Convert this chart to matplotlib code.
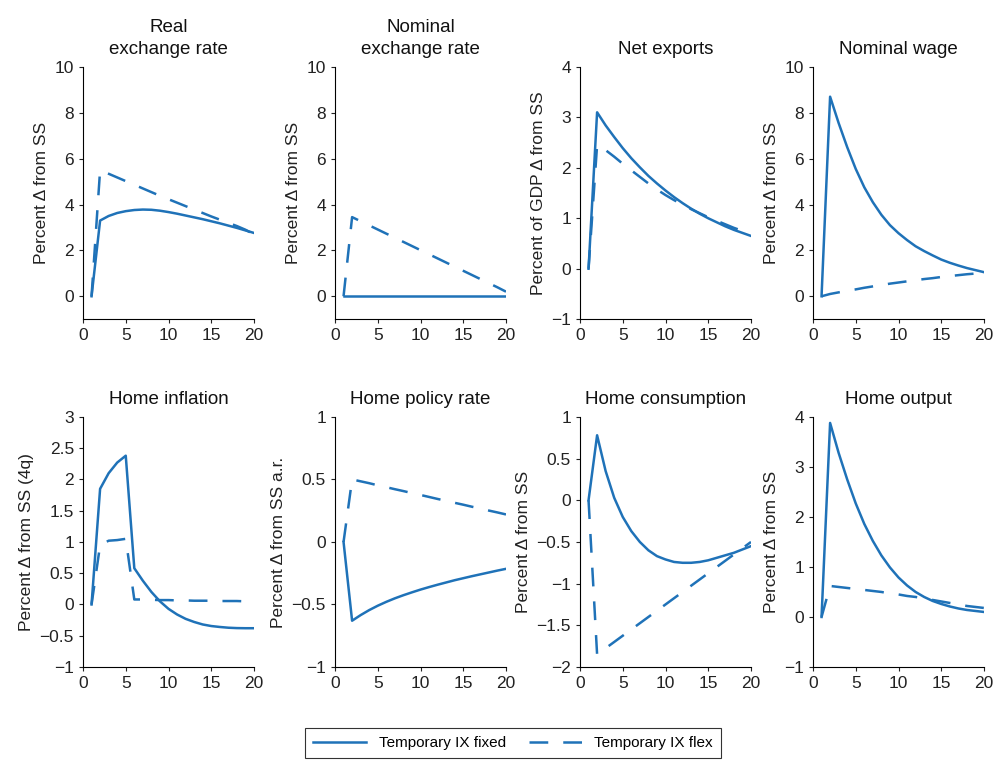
### Impulse responses: temporary IX, fixed vs flex ###
import matplotlib.pyplot as plt
from matplotlib.ticker import FuncFormatter

plt.rcParams['font.family'] = ['Liberation Sans', 'DejaVu Sans']

### Data ###
quarters = list(range(1, 21))

titles = ['Real\nexchange rate', 'Nominal\nexchange rate', 'Net exports', 'Nominal wage',
          'Home inflation', 'Home policy rate', 'Home consumption', 'Home output']
ylabels = ['Percent \u0394 from SS', 'Percent \u0394 from SS', 'Percent of GDP \u0394 from SS',
           'Percent \u0394 from SS', 'Percent \u0394 from SS (4q)', 'Percent \u0394 from SS a.r.',
           'Percent \u0394 from SS', 'Percent \u0394 from SS']

rer_fixed = [0, 3.3, 3.5, 3.63, 3.71, 3.76, 3.78, 3.77, 3.73, 3.67, 3.6, 3.52, 3.44, 3.36, 3.27,
             3.18, 3.08, 2.98, 2.87, 2.76]
rer_flex = [0, 5.5, 5.34, 5.18, 5.02, 4.86, 4.7, 4.54, 4.38, 4.23, 4.08, 3.93, 3.78, 3.63, 3.48,
            3.34, 3.2, 3.06, 2.9, 2.7]

ner_fixed = [0] * 20
ner_flex = [0, 3.45, 3.27, 3.09, 2.91, 2.73, 2.55, 2.37, 2.19, 2.01, 1.83, 1.65, 1.47, 1.29, 1.11,
            0.93, 0.75, 0.57, 0.39, 0.2]

nx_fixed = [0, 3.1, 2.84, 2.61, 2.39, 2.19, 2.01, 1.84, 1.69, 1.55, 1.42, 1.3, 1.19, 1.09, 1.0,
            0.92, 0.84, 0.77, 0.71, 0.65]
nx_flex = [0, 2.45, 2.35, 2.22, 2.08, 1.95, 1.82, 1.69, 1.57, 1.46, 1.36, 1.27, 1.18, 1.1, 1.02,
           0.95, 0.88, 0.81, 0.75, 0.68]

wage_fixed = [0, 8.7, 7.55, 6.5, 5.55, 4.75, 4.1, 3.55, 3.1, 2.75, 2.45, 2.18, 1.97, 1.78, 1.6,
              1.46, 1.34, 1.23, 1.14, 1.05]
wage_flex = [0, 0.1, 0.17, 0.24, 0.3, 0.37, 0.43, 0.49, 0.55, 0.6, 0.65, 0.7, 0.75, 0.79, 0.84,
             0.88, 0.92, 0.96, 0.99, 1.02]

infl_fixed = [0, 1.85, 2.1, 2.27, 2.38, 0.58, 0.38, 0.2, 0.05, -0.07, -0.16, -0.23, -0.28, -0.32,
              -0.345, -0.36, -0.372, -0.378, -0.38, -0.38]
infl_flex = [0, 0.95, 1.02, 1.03, 1.05, 0.08, 0.08, 0.075, 0.07, 0.07, 0.065, 0.065, 0.06, 0.06,
             0.06, 0.055, 0.055, 0.055, 0.05, 0.05]

rate_fixed = [0, -0.63, -0.585, -0.545, -0.51, -0.479, -0.451, -0.426, -0.403, -0.381, -0.361,
              -0.342, -0.324, -0.306, -0.29, -0.274, -0.259, -0.244, -0.229, -0.215]
rate_flex = [0, 0.5, 0.485, 0.47, 0.453, 0.438, 0.422, 0.407, 0.391, 0.376, 0.36, 0.344, 0.329,
             0.313, 0.298, 0.282, 0.267, 0.251, 0.236, 0.22]

cons_fixed = [0, 0.78, 0.35, 0.03, -0.2, -0.37, -0.5, -0.6, -0.67, -0.71, -0.74, -0.75, -0.75,
              -0.74, -0.72, -0.69, -0.66, -0.63, -0.59, -0.55]
cons_flex = [0, -1.85, -1.775, -1.7, -1.625, -1.55, -1.475, -1.4, -1.325, -1.25, -1.175, -1.1,
             -1.025, -0.95, -0.875, -0.8, -0.725, -0.65, -0.575, -0.5]

out_fixed = [0, 3.88, 3.28, 2.75, 2.27, 1.86, 1.52, 1.23, 0.99, 0.79, 0.63, 0.5, 0.4, 0.32, 0.26,
             0.21, 0.17, 0.14, 0.12, 0.1]
out_flex = [0, 0.62, 0.6, 0.58, 0.56, 0.54, 0.52, 0.5, 0.47, 0.45, 0.42, 0.4, 0.37, 0.34, 0.31,
            0.28, 0.25, 0.22, 0.2, 0.18]

fixed_series = [rer_fixed, ner_fixed, nx_fixed, wage_fixed, infl_fixed, rate_fixed, cons_fixed, out_fixed]
flex_series = [rer_flex, ner_flex, nx_flex, wage_flex, infl_flex, rate_flex, cons_flex, out_flex]

ylims = [(-1, 10), (-1, 10), (-1, 4), (-1, 10), (-1, 3), (-1, 1), (-2, 1), (-1, 4)]
yticks = [[0, 2, 4, 6, 8, 10], [0, 2, 4, 6, 8, 10], [-1, 0, 1, 2, 3, 4], [0, 2, 4, 6, 8, 10],
          [-1, -0.5, 0, 0.5, 1, 1.5, 2, 2.5, 3], [-1, -0.5, 0, 0.5, 1],
          [-2, -1.5, -1, -0.5, 0, 0.5, 1], [-1, 0, 1, 2, 3, 4]]

### Layout ###
color = '#1f72b8'
lefts = [0.083, 0.335, 0.580, 0.813]
rows = [(0.580, 0.332), (0.1224, 0.329)]
width = 0.171

fig = plt.figure(figsize=(10, 7.6), dpi=100)
fmt = FuncFormatter(lambda v, p: ('%g' % v).replace('-', '\u2212'))

for i in range(8):
    bottom, height = rows[i // 4]
    ax = fig.add_axes([lefts[i % 4], bottom, width, height])
    l1, = ax.plot(quarters, fixed_series[i], color=color, lw=1.8, label='Temporary IX fixed')
    l2, = ax.plot(quarters, flex_series[i], color=color, lw=1.8, dashes=(7.5, 6),
                  label='Temporary IX flex')
    ax.set_xlim(0, 20)
    ax.set_xticks([0, 5, 10, 15, 20])
    ax.set_ylim(*ylims[i])
    ax.set_yticks(yticks[i])
    ax.yaxis.set_major_formatter(fmt)
    ax.set_title(titles[i], fontsize=13.5, pad=9, color='#111111', linespacing=1.45)
    ax.set_ylabel(ylabels[i], fontsize=12.5, labelpad=4, color='#222222')
    ax.spines['top'].set_visible(False)
    ax.spines['right'].set_visible(False)
    ax.tick_params(labelsize=12.5, length=3, colors='#222222')

leg = fig.legend([l1, l2], ['Temporary IX fixed', 'Temporary IX flex'], loc='center',
                 bbox_to_anchor=(0.513, 0.0225), ncol=2, frameon=True, fancybox=False,
                 edgecolor='black', fontsize=11, handlelength=3.5, columnspacing=1.5,
                 borderpad=0.5)
leg.get_frame().set_linewidth(0.8)

fig.savefig('out.png', dpi=100)
